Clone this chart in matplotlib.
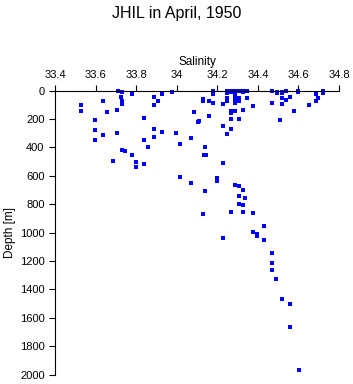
import numpy as np
import matplotlib.pyplot as plt

plt.rcParams['font.family'] = ['Liberation Sans', 'DejaVu Sans']

# salinity / depth pairs
salinity = [
    33.530, 33.530, 33.638, 33.658, 33.599, 33.599, 33.638, 33.599,
    33.709, 33.729, 33.727, 33.729, 33.729, 33.707, 33.707, 33.778,
    33.729, 33.747, 33.778, 33.688, 33.800, 33.800,
    33.839, 33.839, 33.839, 33.860,
    33.890, 33.909, 33.929, 33.978, 33.890, 33.890, 33.890, 33.929, 33.998,
    34.069, 34.018, 34.018, 34.069,
    34.087, 34.110, 34.106, 34.159, 34.159, 34.128, 34.128, 34.140, 34.134, 34.144,
    34.179, 34.179, 34.179, 34.179,
    34.200, 34.200, 34.139, 34.230, 34.230, 34.249, 34.230,
    34.249, 34.249, 34.249, 34.249, 34.249,
    34.269, 34.269, 34.269, 34.269, 34.269, 34.269,
    34.289, 34.289, 34.289, 34.289, 34.289, 34.289, 34.289, 34.289,
    34.309, 34.309, 34.309, 34.309,
    34.328, 34.328, 34.328,
    34.348, 34.348, 34.377,
    34.469, 34.469, 34.492, 34.492, 34.519, 34.519, 34.519, 34.519,
    34.538, 34.538, 34.558, 34.580, 34.599, 34.599, 34.509, 34.650,
    34.689, 34.689, 34.698, 34.719, 34.719, 34.719,
    34.289, 34.308, 34.328, 34.308, 34.338, 34.308, 34.328, 34.269, 34.328,
    34.377, 34.128, 34.430, 34.377, 34.397, 34.397, 34.230, 34.430,
    34.469, 34.469, 34.469, 34.491, 34.520, 34.560, 34.560, 34.604,
]
depth = [
    102, 142, 76, 151, 205, 276, 316, 351,
    0, 13, 48, 72, 97, 140, 301, 27,
    419, 428, 456, 498, 503, 540,
    196, 351, 519, 400,
    48, 76, 27, 11, 100, 273, 325, 294, 301,
    336, 376, 611, 653,
    151, 212, 225, 182, 76, 58, 72, 400, 456, 456,
    0, 13, 25, 90,
    616, 640, 707, 508, 252, 308, 93,
    0, 8, 16, 51, 74,
    0, 13, 144, 158, 200, 273,
    0, 15, 30, 45, 60, 75, 90, 144,
    0, 51, 74, 200,
    0, 13, 135,
    0, 51, 111,
    0, 88, 8, 20, 8, 20, 50, 93,
    0, 69, 46, 144, 0, 10, 210, 102,
    27, 74, 50, 0, 10, 20,
    667, 674, 702, 742, 759, 799, 808, 858, 857,
    864, 871, 951, 998, 1012, 1022, 1040, 1050,
    1146, 1212, 1265, 1329, 1469, 1505, 1667, 1969,
]

fig = plt.figure(figsize=(3.53, 3.84), dpi=100)
ax = fig.add_axes([0.1558, 0.0242, 0.8045, 0.7401])

ax.plot(salinity, depth, 's', color='#0000ff', markersize=2.5,
        markeredgewidth=0, clip_on=False)

ax.set_xlim(33.4, 34.8)
ax.set_ylim(2000, 0)
ax.set_xticks(np.arange(33.4, 34.81, 0.2))
ax.set_xticklabels(['33.4', '33.6', '33.8', '34', '34.2', '34.4', '34.6', '34.8'])
ax.set_yticks(np.arange(0, 2001, 200))

ax.xaxis.tick_top()
ax.xaxis.set_label_position('top')
ax.spines['right'].set_visible(False)
ax.spines['bottom'].set_visible(False)
for s in ['left', 'top']:
    ax.spines[s].set_linewidth(0.8)
ax.tick_params(direction='out', length=4.5, width=0.8, labelsize=8, pad=3)

ax.set_xlabel('Salinity', fontsize=8.5, labelpad=4)
ax.set_ylabel('Depth [m]', fontsize=8.5, labelpad=3)
fig.suptitle('JHIL in April, 1950', fontsize=11.5, y=0.985)

fig.savefig('out.png', dpi=100)
